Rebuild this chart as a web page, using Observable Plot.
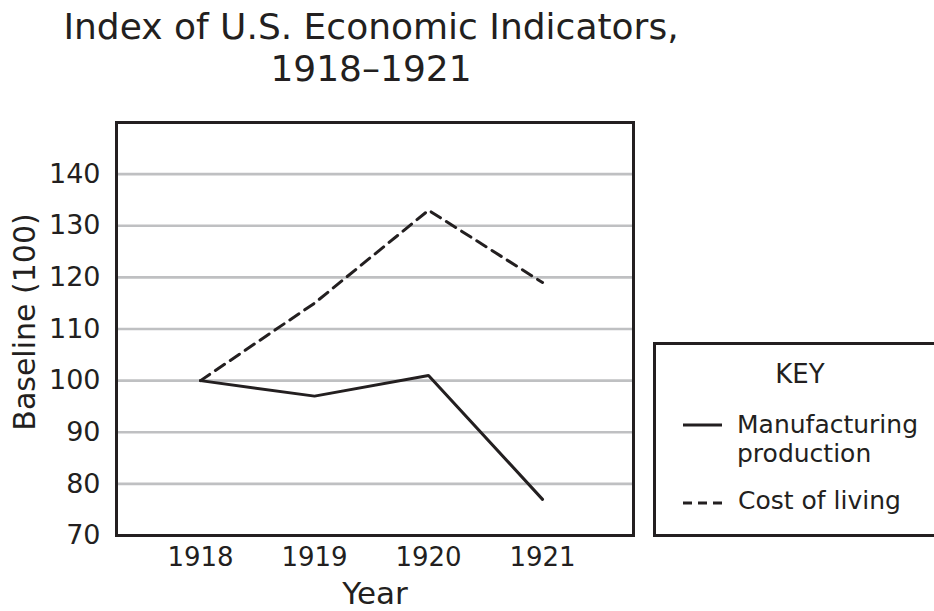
<!DOCTYPE html>
<html>
<head>
<meta charset="utf-8">
<script src="https://cdn.jsdelivr.net/npm/d3@7"></script>
<script src="https://cdn.jsdelivr.net/npm/@observablehq/plot@0.6"></script>
<style>
  html, body { margin: 0; padding: 0; background: #fff; overflow: hidden; }
  #page { position: relative; width: 934px; height: 611px; font-family: "DejaVu Sans", Verdana, sans-serif; color: #231f20; }
  #title { position: absolute; left: 0; top: 6px; width: 742px; text-align: center; font-size: 36px; line-height: 42px; }
  #chart { position: absolute; left: 0; top: 100px; }
  #legend { position: absolute; left: 653px; top: 342px; }
  #chart g[aria-label="y-axis label"] text { font-size: 30px; translate: 0 -7px; }
</style>
</head>
<body>
<div id="page">
  <div id="title">Index of U.S. Economic Indicators,<br>1918–1921</div>
  <div id="chart"></div>
  <div id="legend"></div>
</div>
<script>
// ---- data ----
const years = [1918, 1919, 1920, 1921];
const manufacturing = [100, 97, 101, 77];
const costOfLiving = [100, 115, 133, 119];
const yTicks = [70, 80, 90, 100, 110, 120, 130, 140];
const seriesNames = ["Manufacturing production", "Cost of living"];
const xLabel = "Year";
const yLabel = "Baseline (100)";
const legendTitle = "KEY";

const ink = "#231f20";
const font = "DejaVu Sans, Verdana, sans-serif";
const mfgData = years.map((year, i) => ({year, value: manufacturing[i]}));
const colData = years.map((year, i) => ({year, value: costOfLiving[i]}));

const chart = Plot.plot({
  width: 934,
  height: 511,
  marginLeft: 116,
  marginRight: 301,
  marginTop: 22,
  marginBottom: 76,
  style: {fontFamily: font, fontSize: "26px", color: ink, background: "white", overflow: "visible"},
  x: {domain: [1917.263, 1921.798]},
  y: {domain: [70, 150]},
  marks: [
    Plot.gridY(yTicks.filter(d => d > 70), {stroke: "#bfc0c2", strokeWidth: 2.6, strokeOpacity: 1}),
    Plot.axisX(years, {tickSize: 0, tickPadding: 12, tickFormat: d => String(d), label: null, fill: ink, fontSize: 26}),
    Plot.axisY(yTicks, {tickSize: 0, tickPadding: 16, label: yLabel, labelAnchor: "center", labelOffset: 103, labelArrow: "none", fill: ink, fontSize: 27}),
    Plot.text([xLabel], {frameAnchor: "bottom", lineAnchor: "bottom", dy: 68, fontSize: 31, fill: ink}),
    Plot.lineY(mfgData, {x: "year", y: "value", stroke: ink, strokeWidth: 3, strokeLinejoin: "miter"}),
    Plot.lineY(colData, {x: "year", y: "value", stroke: ink, strokeWidth: 3, strokeDasharray: "11,7", strokeLinejoin: "miter"}),
    Plot.frame({stroke: ink, strokeWidth: 3})
  ]
});
document.getElementById("chart").appendChild(chart);

// ---- legend (key box) ----
const lw = 281, lh = 195;
const svg = d3.select("#legend").append("svg")
  .attr("width", lw).attr("height", lh)
  .style("font-family", font)
  .style("font-size", "25px");
svg.append("rect").attr("x", 1.5).attr("y", 1.5).attr("width", 300).attr("height", lh - 3)
  .attr("fill", "white").attr("stroke", ink).attr("stroke-width", 3);
svg.append("text").attr("x", 147).attr("y", 41).attr("text-anchor", "middle").attr("fill", ink).style("font-size", "26px").text(legendTitle);
svg.append("line").attr("x1", 30).attr("x2", 69).attr("y1", 83).attr("y2", 83).attr("stroke", ink).attr("stroke-width", 3);
const t1 = svg.append("text").attr("x", 84).attr("y", 91).attr("fill", ink);
t1.append("tspan").attr("x", 84).attr("y", 91).text("Manufacturing");
t1.append("tspan").attr("x", 84).attr("y", 120).text("production");
svg.append("line").attr("x1", 30).attr("x2", 69).attr("y1", 161).attr("y2", 161).attr("stroke", ink).attr("stroke-width", 3).attr("stroke-dasharray", "9,6");
svg.append("text").attr("x", 85).attr("y", 167).attr("fill", ink).text(seriesNames[1]);
</script>
</body>
</html>
